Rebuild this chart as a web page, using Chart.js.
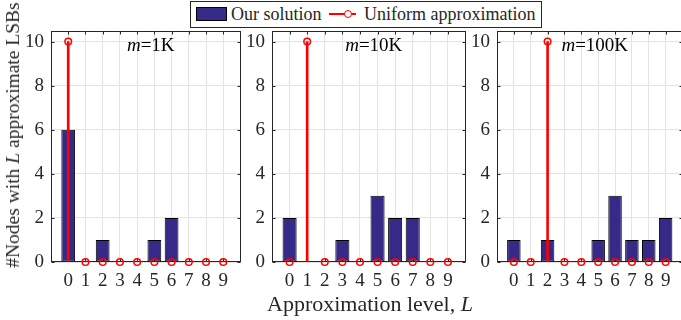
<!DOCTYPE html>
<html>
<head>
<meta charset="utf-8">
<script src="https://cdn.jsdelivr.net/npm/chart.js@4.4.1/dist/chart.umd.min.js"></script>
<style>
  html, body { margin: 0; padding: 0; background: #fff; overflow: hidden; }
  body { width: 681px; height: 320px; position: relative; font-family: 'Liberation Serif', 'DejaVu Serif', serif; color: #262626; }
  canvas { position: absolute; }
  .txt { position: absolute; white-space: nowrap; }
  #legend { position: absolute; left: 190px; top: 1px; width: 350px; height: 25px; border: 1px solid #262626; background: #fff; font-size: 18px; line-height: 25px; }
  #legend .sw { position: absolute; left: 5px; top: 5px; width: 31px; height: 14px; background: #352a87; border: 1px solid #000; box-sizing: border-box; }
  #legend .ln { position: absolute; left: 138px; top: 11px; width: 27px; height: 2px; background: #ff0000; }
  #legend .mk { position: absolute; left: 153px; top: 8px; width: 8px; height: 8px; border: 1.5px solid #ff0000; border-radius: 50%; box-sizing: border-box; background: #fff; }
</style>
</head>
<body>
<canvas id="p0"></canvas>
<canvas id="p1"></canvas>
<canvas id="p2"></canvas>
<div id="legend">
  <div class="sw"></div><span class="txt" id="lg0" style="left:40px;top:0"></span>
  <div class="ln"></div><div class="mk"></div><span class="txt" id="lg1" style="left:173px;top:0"></span>
</div>
<div class="txt" id="ytitle" style="left:13px;top:135px;font-size:19.5px;transform:translate(-50%,-50%) rotate(-90deg);">#Nodes with <i>L</i> approximate LSBs</div>
<div class="txt" id="xtitle" style="left:370px;top:304px;font-size:22px;transform:translate(-50%,-50%);">Approximation level, <i>L</i></div>
<script>
const levels = [0, 1, 2, 3, 4, 5, 6, 7, 8, 9];
const yTicks = [0, 2, 4, 6, 8, 10];
const seriesNames = ['Our solution', 'Uniform approximation'];
const panelNames = ['1K', '10K', '100K'];

const ours1K = [6, 0, 1, 0, 0, 1, 2, 0, 0, 0];
const ours10K = [2, 0, 0, 1, 0, 3, 2, 2, 0, 0];
const ours100K = [1, 0, 1, 0, 0, 1, 3, 1, 1, 2];

const uniform1K = [10, 0, 0, 0, 0, 0, 0, 0, 0, 0];
const uniform10K = [0, 10, 0, 0, 0, 0, 0, 0, 0, 0];
const uniform100K = [0, 0, 10, 0, 0, 0, 0, 0, 0, 0];

const oursAll = [ours1K, ours10K, ours100K];
const uniformAll = [uniform1K, uniform10K, uniform100K];

document.getElementById('lg0').textContent = seriesNames[0];
document.getElementById('lg1').textContent = seriesNames[1];

// plot boxes (left, right) in page pixels, all share top/bottom
const boxes = [[51, 243], [272, 468], [497, 685]];
const TOP = 25, H = 275, YW = 45, XH = 38, PADT = 5, PADR = 3;
const FONT = "'Liberation Serif', 'DejaVu Serif', serif";
const INK = '#262626';

function noPad(s) {
  s.paddingTop = 0; s.paddingBottom = 0; s.paddingLeft = 0; s.paddingRight = 0;
}

const framePlugin = {
  id: 'frame',
  beforeDatasetsDraw(chart) {
    const {ctx, chartArea: a, scales: {x, y}} = chart;
    const l = Math.round(a.left) + 0.5, r = Math.round(a.right) - 0.5;
    const t = Math.round(a.top) + 0.5, b = Math.round(a.bottom) - 0.5;
    ctx.save();
    ctx.strokeStyle = INK;
    ctx.lineWidth = 1;
    ctx.strokeRect(l, t, r - l, b - t);
    ctx.beginPath();
    x.ticks.forEach(tk => {
      const px = Math.round(x.getPixelForValue(tk.value)) + 0.5;
      ctx.moveTo(px, b); ctx.lineTo(px, b - 3);
      ctx.moveTo(px, t); ctx.lineTo(px, t + 3);
    });
    y.ticks.forEach(tk => {
      const py = Math.round(y.getPixelForValue(tk.value)) + 0.5;
      ctx.moveTo(l, py); ctx.lineTo(l + 3, py);
      ctx.moveTo(r, py); ctx.lineTo(r - 3, py);
    });
    ctx.stroke();
    ctx.restore();
  },
  afterDraw(chart, args, opts) {
    const {ctx, chartArea: a} = chart;
    ctx.save();
    ctx.fillStyle = '#000';
    ctx.textBaseline = 'alphabetic';
    ctx.font = 'italic 19px ' + FONT;
    const w1 = ctx.measureText('m').width;
    ctx.font = '19px ' + FONT;
    const rest = '=' + opts.name;
    const w2 = ctx.measureText(rest).width;
    const x0 = (a.left + a.right) / 2 + 5 - (w1 + w2) / 2;
    const yb = a.top + 20.5;
    ctx.font = 'italic 19px ' + FONT;
    ctx.fillText('m', x0, yb);
    ctx.font = '19px ' + FONT;
    ctx.fillText(rest, x0 + w1, yb);
    ctx.restore();
  }
};

function makePanel(i) {
  const [L, R] = boxes[i];
  const cv = document.getElementById('p' + i);
  const w = YW + (R - L) + PADR;
  cv.width = w; cv.height = H;
  cv.style.left = (L - YW) + 'px';
  cv.style.top = TOP + 'px';
  cv.style.width = w + 'px';
  cv.style.height = H + 'px';

  const ours = oursAll[i], uni = uniformAll[i];
  const gridColor = '#e3e3e3';
  new Chart(cv, {
    type: 'bar',
    data: {
      datasets: [
        {
          type: 'line', label: seriesNames[1],
          data: levels.map((l, k) => ({x: l, y: uni[k]})),
          showLine: false, pointStyle: 'circle', pointRadius: 3.3,
          pointBorderWidth: 1.5, pointBorderColor: '#ff0000',
          pointBackgroundColor: 'rgba(0,0,0,0)', clip: false, order: 0
        },
        {
          label: 'stem',
          data: levels.map((l, k) => ({x: l, y: uni[k]})),
          backgroundColor: '#ff0000', borderWidth: 0, grouped: false,
          categoryPercentage: 1, barPercentage: 1, maxBarThickness: 2, order: 1
        },
        {
          label: seriesNames[0],
          data: levels.map((l, k) => ({x: l, y: ours[k]})),
          backgroundColor: '#352a87', borderColor: '#000', borderWidth: 1,
          borderSkipped: false, grouped: false,
          categoryPercentage: 1, barPercentage: 0.8, order: 2
        }
      ]
    },
    options: {
      responsive: false,
      animation: false,
      devicePixelRatio: 1,
      layout: {padding: {top: PADT, right: PADR, left: 0, bottom: 0}},
      plugins: {
        legend: {display: false},
        tooltip: {enabled: false},
        frame: {name: panelNames[i]}
      },
      scales: {
        x: {
          type: 'linear', min: -1, max: 10, offset: false,
          grid: {offset: false, color: gridColor, drawTicks: false},
          border: {display: false},
          ticks: {font: {family: FONT, size: 19}, color: INK, padding: 8, maxRotation: 0, autoSkip: false},
          afterBuildTicks: s => { s.ticks = levels.map(v => ({value: v})); },
          afterFit: s => { s.height = XH; noPad(s); }
        },
        y: {
          type: 'linear', min: 0, max: 10.5,
          grid: {color: gridColor, drawTicks: false},
          border: {display: false},
          ticks: {font: {family: FONT, size: 19}, color: INK, padding: 7},
          afterBuildTicks: s => { s.ticks = yTicks.map(v => ({value: v})); },
          afterFit: s => { s.width = YW; noPad(s); }
        }
      }
    },
    plugins: [framePlugin]
  });
}

[0, 1, 2].forEach(makePanel);
</script>
</body>
</html>
